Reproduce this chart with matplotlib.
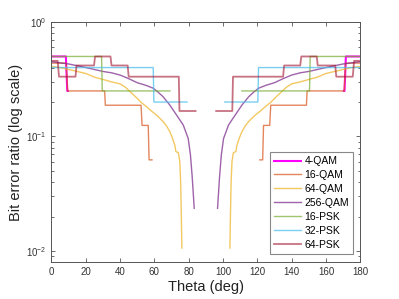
import numpy as np
import matplotlib
matplotlib.use('Agg')
import matplotlib.pyplot as plt
from matplotlib.ticker import LogLocator, NullFormatter

plt.rcParams['font.family'] = ['Liberation Sans', 'DejaVu Sans']
plt.rcParams['mathtext.fontset'] = 'custom'
plt.rcParams['mathtext.rm'] = 'Liberation Sans'
plt.rcParams['mathtext.it'] = 'Liberation Sans'

# left half (0..90 deg); the curve is mirrored about 90 deg
theta_4qam = [0, 8.4, 9.2, 9.6]
ber_4qam = [0.5, 0.5, 0.25, 0.25]

theta_16qam = [0, 8.6, 9.4, 31.0, 31.4, 52.2, 52.8, 56.4, 56.9, 58.6]
ber_16qam = [0.4375, 0.4375, 0.25, 0.25, 0.1875, 0.1875, 0.125, 0.125, 0.0625, 0.0625]

theta_64qam = [0, 5, 10, 15, 20, 25, 30, 35, 40, 43, 46, 49.6, 52, 55.4, 58, 61.2, 63,
               65.1, 67, 69, 70.5, 71.9, 72.5, 74, 74.8, 75.3, 75.7, 76]
ber_64qam = [0.41, 0.40, 0.385, 0.37, 0.355, 0.33, 0.315, 0.30, 0.288, 0.27, 0.245, 0.218,
             0.2, 0.182, 0.168, 0.154, 0.145, 0.135, 0.124, 0.11, 0.097, 0.084, 0.074,
             0.072, 0.06, 0.04, 0.02, 0.0106]

theta_256qam = [0, 5, 10, 15, 20, 25, 30, 35, 40, 45, 50, 55, 59.3, 62, 65, 69, 72.9,
                76.8, 79.7, 81, 82, 83.2]
ber_256qam = [0.45, 0.44, 0.43, 0.415, 0.40, 0.385, 0.37, 0.36, 0.344, 0.32, 0.295, 0.28,
              0.264, 0.245, 0.223, 0.188, 0.154, 0.126, 0.096, 0.069, 0.045, 0.0236]

theta_16psk = [0, 29.2, 29.6, 69]
ber_16psk = [0.5, 0.5, 0.25, 0.25]

theta_32psk = [0, 59.3, 59.7, 79]
ber_32psk = [0.4, 0.4, 0.2, 0.2]

theta_64psk = [0, 3.6, 4.4, 14.0, 14.6, 24.8, 25.4, 34.4, 35.0, 44.4, 45.0, 74.2, 74.6, 84]
ber_64psk = [0.458, 0.458, 0.333, 0.333, 0.417, 0.417, 0.5, 0.5, 0.417, 0.417, 0.333,
             0.333, 0.167, 0.167]

series = [
    ('4-QAM', theta_4qam, ber_4qam, '#ff00ff', 1.5, 1.0),
    ('16-QAM', theta_16qam, ber_16qam, '#d95319', 1.0, 0.7),
    ('64-QAM', theta_64qam, ber_64qam, '#edb120', 1.0, 0.7),
    ('256-QAM', theta_256qam, ber_256qam, '#7e2f8e', 1.0, 0.75),
    ('16-PSK', theta_16psk, ber_16psk, '#77ac30', 1.0, 0.7),
    ('32-PSK', theta_32psk, ber_32psk, '#4dbeee', 1.0, 0.75),
    ('64-PSK', theta_64psk, ber_64psk, '#a2142f', 1.3, 0.6),
]

fig = plt.figure(figsize=(3.99, 2.99), dpi=100)
ax = fig.add_axes([0.129, 0.1237, 0.774, 0.8027])

for name, th, ber, col, lw, a in series:
    th = np.array(th)
    ax.plot(th, ber, color=col, lw=lw, alpha=a, label=name)
    ax.plot(180 - th, ber, color=col, lw=lw, alpha=a)

ax.set_yscale('log')
ax.set_xlim(0, 180)
ax.set_ylim(0.00801, 1.0)
ax.set_xticks(np.arange(0, 181, 20))
ax.yaxis.set_major_locator(LogLocator(base=10, numticks=5))
ax.yaxis.set_minor_locator(LogLocator(base=10, subs=np.arange(2, 10), numticks=10))
ax.yaxis.set_minor_formatter(NullFormatter())

gray = '#555555'
for s in ax.spines.values():
    s.set_color(gray)
    s.set_linewidth(0.7)
ax.tick_params(which='both', direction='in', top=True, right=True, colors=gray,
               labelcolor='#333333', labelsize=7, width=0.6)
ax.tick_params(which='major', length=3)
ax.tick_params(which='minor', length=1.8)

ax.set_xlabel('Theta (deg)', fontsize=10.5, color='#222222', labelpad=2)
ax.set_ylabel('Bit error ratio (log scale)', fontsize=10.5, color='#222222', labelpad=2)

leg = ax.legend(loc='lower right', fontsize=7.5, frameon=True, fancybox=False,
                framealpha=1, edgecolor='#888888', handlelength=2.6,
                labelspacing=0.38, borderpad=0.4, handletextpad=0.3,
                borderaxespad=0, bbox_to_anchor=(0.977, 0.033))
leg.get_frame().set_linewidth(0.8)

fig.savefig('out.png', dpi=100)
